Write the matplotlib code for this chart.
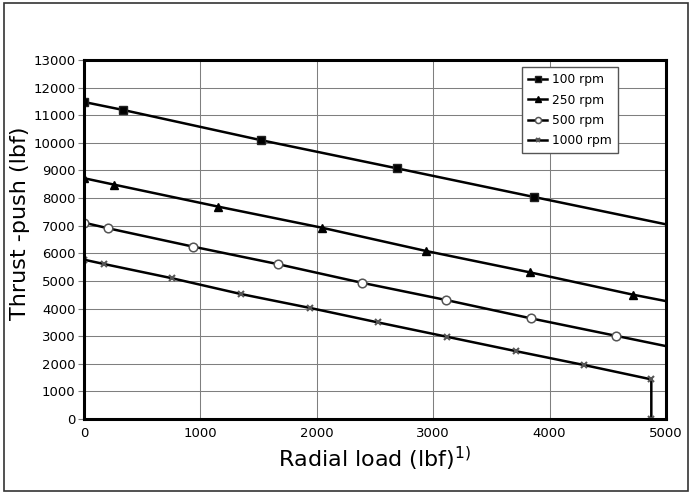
import numpy as np
import matplotlib
matplotlib.use("Agg")
import matplotlib.pyplot as plt
from matplotlib.patches import Rectangle

mpl = matplotlib
mpl.rc('font', family='DejaVu Sans', size=9.5)

# measured points (radial load lbf, thrust lbf) and trend end at 5000 lbf
load_100 = [0, 338, 1518, 2692, 3866]
thrust_100 = [11480, 11190, 10100, 9075, 8040]
end_100 = 7050

load_250 = [0, 261, 1154, 2047, 2938, 3832, 4719]
thrust_250 = [8720, 8485, 7690, 6925, 6085, 5310, 4500]
end_250 = 4270

load_500 = [0, 209, 939, 1664, 2386, 3110, 3840, 4568]
thrust_500 = [7110, 6905, 6240, 5610, 4935, 4310, 3645, 3015]
end_500 = 2640

load_1000 = [0, 175, 759, 1349, 1944, 2523, 3116, 3708, 4296, 4874, 4874]
thrust_1000 = [5770, 5610, 5095, 4525, 4020, 3500, 2980, 2460, 1955, 1435, 0]

labels = ["100 rpm", "250 rpm", "500 rpm", "1000 rpm"]
xticks = [0, 1000, 2000, 3000, 4000, 5000]
yticks = list(range(0, 13001, 1000))

fig = plt.figure(figsize=(6.92, 4.94), dpi=100)
ax = fig.add_axes([0.1214, 0.1518, 0.8410, 0.7267])

# outer frame round the whole picture
fig.patches.append(Rectangle((4/692, 3/494), 684/692, 488/494, transform=fig.transFigure,
                             fill=False, edgecolor="#333333", linewidth=1.2))

args = {"color": "black", "linewidth": 1.8}

# 100 rpm
x = load_100 + [5000]
y = thrust_100 + [end_100]
ax.plot(x, y, marker="s", markersize=5.5, markevery=list(range(len(load_100))),
        markerfacecolor="black", markeredgecolor="#222222", label=labels[0], **args)

# 250 rpm
x = load_250 + [5000]
y = thrust_250 + [end_250]
ax.plot(x, y, marker="^", markersize=5.5, markevery=list(range(len(load_250))),
        markerfacecolor="black", markeredgecolor="black", label=labels[1], **args)

# 500 rpm
x = load_500 + [5000]
y = thrust_500 + [end_500]
ax.plot(x, y, marker="o", markersize=6.2, markevery=list(range(len(load_500))),
        markerfacecolor="white", markeredgecolor="#555555", markeredgewidth=1.1,
        label=labels[2], **args)

# 1000 rpm
ax.plot(load_1000, thrust_1000, marker="x", markersize=5, markeredgewidth=1.5,
        markeredgecolor="#555555", label=labels[3], **args)

ax.set_xlim(0, 5000)
ax.set_ylim(0, 13000)
ax.set_xticks(xticks)
ax.set_yticks(yticks)
ax.grid(True, color="#7f7f7f", linewidth=0.75)
ax.set_axisbelow(True)

for s in ax.spines.values():
	s.set_linewidth(2.2)
ax.tick_params(axis="x", length=0, pad=6)
ax.tick_params(axis="y", length=4, width=0.8, color="#7f7f7f", pad=2)

ax.set_xlabel("Radial load (lbf)$^{1)}$", fontsize=16, labelpad=3)
ax.set_ylabel("Thrust -push (lbf)", fontsize=16)
ax.yaxis.set_label_coords(-0.092, 0.545)

leg = ax.legend(loc="upper left", bbox_to_anchor=(0.752, 0.98), fontsize=8.8,
                fancybox=False, framealpha=1, edgecolor="#555555",
                handlelength=1.6, markerscale=0.7, borderpad=0.5,
                labelspacing=0.6, handletextpad=0.4, borderaxespad=0)
leg.get_frame().set_linewidth(1.0)

fig.savefig("out.png", dpi=100)
